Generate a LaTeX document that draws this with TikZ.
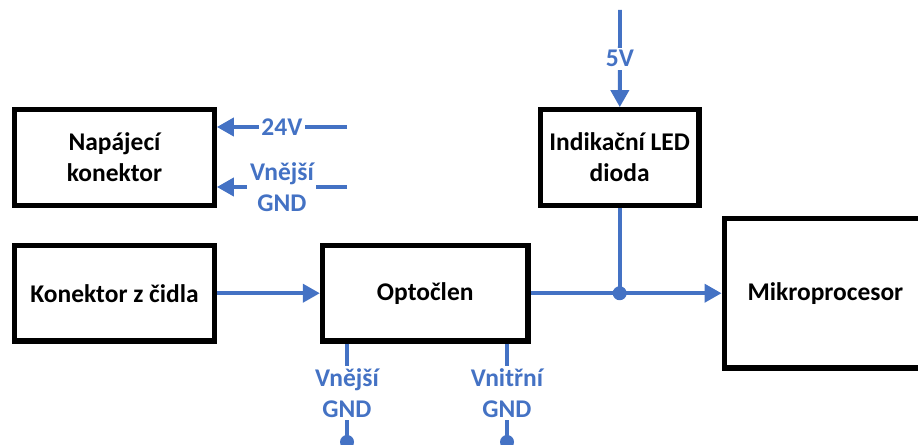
\documentclass[tikz,border=0pt]{standalone}
\usepackage{fontspec}
\setmainfont{Carlito}
\usepackage{xcolor}
\usepackage{tikz}
\usetikzlibrary{positioning,arrows.meta}
\definecolor{wireblue}{HTML}{4472C4}

\begin{document}
\begin{tikzpicture}[x=0.02cm, y=-0.02cm,
    box/.style={rectangle, draw, line width=3pt, minimum width=3.99cm, minimum height=1.91cm, align=center, font=\bfseries\fontsize{14.5}{17.5}\selectfont},
    wire/.style={draw=wireblue, line width=2.2pt},
    arrow/.style={wire, -{Triangle[length=0.34cm, width=0.36cm]}},
    lbl/.style={fill=white, text=wireblue, inner sep=1.5pt, align=center, font=\bfseries\fontsize{14.5}{17.5}\selectfont},
    dot/.style={fill=wireblue}]

    \useasboundingbox (0,0) rectangle (918,445);
    \clip (0,0) rectangle (918,445);

    \node[box] (power) at (114.5,157.5) {Napájecí\\konektor};
    \node[box, below=0.7cm of power] (sensor) {Konektor z čidla};
    \node[box, right=2.06cm of sensor, minimum width=4.11cm] (opto) {Optočlen};
    \node[box, right=6.42cm of power, minimum width=3.17cm] (led) {Indikační LED\\dioda};
    \node[box, right=3.82cm of opto, minimum width=4.05cm, minimum height=2.99cm] (mcu) {Mikroprocesor};

    \coordinate (v24) at (347,127);
    \coordinate (gndext) at (347,187);
    \coordinate (v5) at (620,10);
    \coordinate (gndA) at (347,442);
    \coordinate (gndB) at (507,442);
    \coordinate (jn) at (led.south |- opto.east);

    \draw[arrow] (v24) -- (v24 -| power.east) node[midway, lbl] {24V};
    \draw[arrow] (gndext) -- (gndext -| power.east) node[midway, lbl] {Vnější\\GND};
    \draw[arrow] (v5) -- (led) node[midway, lbl] {5V};
    \draw[arrow] (sensor) -- (opto);
    \draw[arrow] (opto.east) -- (opto.east -| mcu.west);
    \draw[wire] (led) -- (jn);
    \fill[dot] (jn) circle (0.14cm);

    \draw[wire] (opto.south -| gndA) -- (gndA) node[midway, lbl] {Vnější\\GND};
    \draw[wire] (opto.south -| gndB) -- (gndB) node[midway, lbl] {Vnitřní\\GND};
    \fill[dot] (gndA) circle (0.14cm);
    \fill[dot] (gndB) circle (0.14cm);
\end{tikzpicture}
\end{document}
